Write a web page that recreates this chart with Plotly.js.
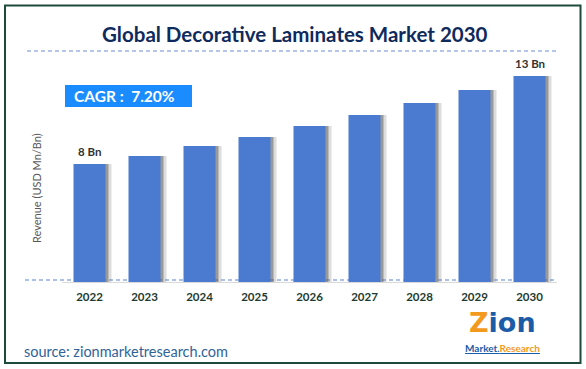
<!DOCTYPE html>
<html>
<head>
<meta charset="utf-8">
<script src="https://cdn.plot.ly/plotly-3.0.1.min.js"></script>
<style>
  html, body { margin: 0; padding: 0; background: #ffffff; }
  #chart { width: 586px; height: 369px; }
</style>
</head>
<body>
<div id="chart"></div>
<script>
// ---- data ----
const years = ['2022', '2023', '2024', '2025', '2026', '2027', '2028', '2029', '2030'];
const revenue = [8, 8.54, 9.22, 9.83, 10.58, 11.32, 12.14, 13.02, 13.97];
const barLabels = ['8 Bn', '', '', '', '', '', '', '', '13 Bn'];
const chartTitle = 'Global Decorative Laminates Market 2030';
const yTitle = 'Revenue (USD Mn/Bn)';
const cagrText = 'CAGR :  7.20%';
const sourceText = 'source: zionmarketresearch.com';

// ---- layout geometry (pixels) ----
const W = 586, H = 369;
const L = 62, R = 557, T = 51, B = 282;
const pw = R - L, ph = B - T;
const px = x => (x - L) / pw;          // pixel x -> paper x
const py = y => (B - y) / ph;          // pixel y -> paper y
const unit = 55;                        // pixels per category
const barW = 32 / unit;

const FONT = 'Lato, "Open Sans", sans-serif';

const shadow1 = {
  type: 'bar', x: years, y: revenue,
  width: barW, offset: -barW / 2 + 3 / unit,
  marker: { color: 'rgba(70,70,70,0.45)', line: { width: 0 } },
  hoverinfo: 'skip', showlegend: false
};
const shadow2 = {
  type: 'bar', x: years, y: revenue,
  width: barW, offset: -barW / 2 + 6 / unit,
  marker: { color: 'rgba(120,120,120,0.25)', line: { width: 0 } },
  hoverinfo: 'skip', showlegend: false
};
const mainBars = {
  type: 'bar', x: years, y: revenue,
  width: barW, offset: -barW / 2,
  marker: { color: '#4a7bd1', line: { width: 0 } },
  showlegend: false
};

const annotations = [];
years.forEach((yr, i) => {
  if (barLabels[i]) {
    annotations.push({
      x: i, y: revenue[i], xref: 'x', yref: 'y',
      text: barLabels[i], showarrow: false,
      xanchor: 'center', yanchor: 'bottom', yshift: 4,
      font: { family: FONT, size: 11.5, color: '#333333', weight: 'bold' }
    });
  }
});
annotations.push({
  x: px(72), y: py(96), xref: 'paper', yref: 'paper',
  xanchor: 'left', yanchor: 'middle', showarrow: false,
  text: cagrText,
  font: { family: FONT, size: 15.5, color: '#ffffff', weight: 'bold' }
});
annotations.push({
  x: px(36), y: py(188), xref: 'paper', yref: 'paper',
  xanchor: 'center', yanchor: 'middle', showarrow: false,
  text: yTitle, textangle: -90,
  font: { family: FONT, size: 11, color: '#595959' }
});
annotations.push({
  x: px(22), y: py(351), xref: 'paper', yref: 'paper',
  xanchor: 'left', yanchor: 'middle', showarrow: false,
  text: sourceText,
  font: { family: FONT, size: 14.5, color: '#2f6399' }
});
// logo
annotations.push({
  x: px(502), y: py(322), xref: 'paper', yref: 'paper',
  xanchor: 'center', yanchor: 'middle', showarrow: false,
  text: '<span style="color:#f39a1e">Z</span>ion',
  font: { family: '"DejaVu Sans", sans-serif', size: 27, color: '#1b5ca8', weight: 'bold' }
});
annotations.push({
  x: px(502), y: py(348), xref: 'paper', yref: 'paper',
  xanchor: 'center', yanchor: 'middle', showarrow: false,
  text: '<u>Market.<span style="color:#f39a1e">Research</span></u>',
  font: { family: FONT, size: 10, color: '#1b5ca8', weight: 'bold' }
});

const shapes = [
  // outer border
  { type: 'rect', xref: 'paper', yref: 'paper',
    x0: px(5), x1: px(580.5), y0: py(363), y1: py(5.5),
    line: { color: '#1e4a3b', width: 2 }, fillcolor: 'rgba(0,0,0,0)', layer: 'below' },
  // top dashed line
  { type: 'line', xref: 'paper', yref: 'paper',
    x0: px(27), x1: px(557), y0: py(51), y1: py(51),
    line: { color: '#6a8fd6', width: 1.2, dash: '4px,3px' } },
  // bottom dashed line
  { type: 'line', xref: 'paper', yref: 'paper',
    x0: px(25), x1: px(557), y0: py(280), y1: py(280),
    line: { color: '#5a84d2', width: 1.2, dash: '4px,3px' }, layer: 'below' },
  // CAGR box
  { type: 'rect', xref: 'paper', yref: 'paper',
    x0: px(65), x1: px(192), y0: py(107), y1: py(85),
    line: { width: 0 }, fillcolor: '#1a8cff' }
];

const layout = {
  width: W, height: H,
  margin: { l: L, r: W - R, t: T, b: H - B, pad: 0 },
  paper_bgcolor: '#ffffff', plot_bgcolor: 'rgba(0,0,0,0)',
  barmode: 'overlay',
  title: {
    text: chartTitle, xref: 'container', yref: 'container',
    x: 0.503, xanchor: 'center', y: 1 - 35 / H, yanchor: 'middle',
    font: { family: FONT, size: 20.5, color: '#0f2a5c', weight: 'bold' }
  },
  xaxis: {
    type: 'category', range: [-0.5, 8.5],
    showline: true, linecolor: '#d9d9d9', linewidth: 1,
    showgrid: false, zeroline: false, ticks: '',
    tickfont: { family: FONT, size: 11.5, color: '#1d3b30', weight: 'bold' },
    ticklabelstandoff: 4, fixedrange: true
  },
  yaxis: {
    range: [0, ph / 14.75], visible: false, showgrid: false, zeroline: false, fixedrange: true
  },
  annotations: annotations,
  shapes: shapes,
  showlegend: false
};

Plotly.newPlot('chart', [shadow2, shadow1, mainBars], layout, { displayModeBar: false, staticPlot: true });
</script>
</body>
</html>
